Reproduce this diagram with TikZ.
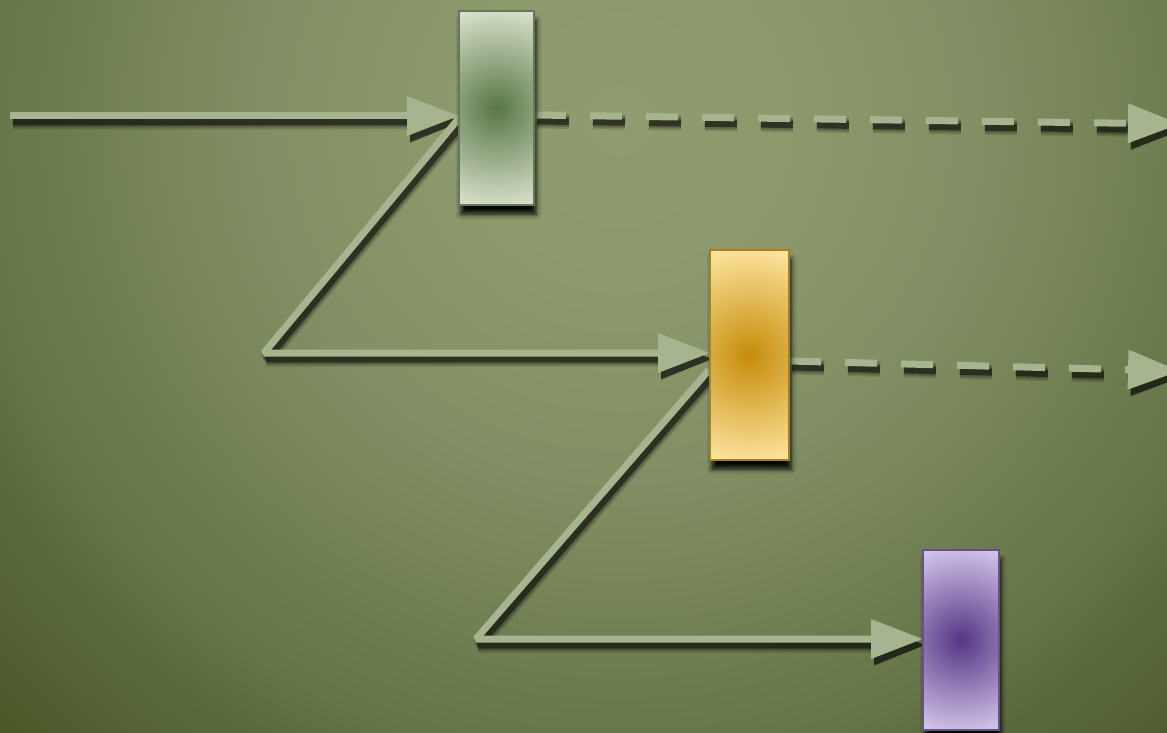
\documentclass[tikz,border=0pt]{standalone}
\usetikzlibrary{arrows.meta,shadows.blur,calc}
\definecolor{bgA}{RGB}{142,156,111}
\definecolor{bgB}{RGB}{140,154,108}
\definecolor{bgC}{RGB}{130,143,100}
\definecolor{bgD}{RGB}{100,116,70}
\definecolor{bgE}{RGB}{90,105,60}
\definecolor{bgF}{RGB}{75,88,40}
\definecolor{arrowc}{RGB}{166,181,143}
\definecolor{gIn}{RGB}{88,118,70}
\definecolor{gOut}{RGB}{222,230,208}
\definecolor{gEdge}{RGB}{104,118,92}
\definecolor{yIn}{RGB}{198,140,10}
\definecolor{yOut}{RGB}{255,232,165}
\definecolor{yEdge}{RGB}{170,128,28}
\definecolor{pIn}{RGB}{84,54,134}
\definecolor{pOut}{RGB}{218,204,238}
\definecolor{pEdge}{RGB}{100,82,132}
\pgfdeclareradialshading{bgsh}{\pgfpoint{0bp}{0bp}}{color(0bp)=(bgA); color(4bp)=(bgB); color(10bp)=(bgC); color(18bp)=(bgD); color(20bp)=(bgE); color(24.2bp)=(bgF); color(50bp)=(bgF)}
\pgfdeclareradialshading{shG}{\pgfpoint{0bp}{0bp}}{color(0bp)=(gIn); color(25bp)=(gOut); color(50bp)=(gOut)}
\pgfdeclareradialshading{shY}{\pgfpoint{0bp}{0bp}}{color(0bp)=(yIn); color(25bp)=(yOut); color(50bp)=(yOut)}
\pgfdeclareradialshading{shP}{\pgfpoint{0bp}{0bp}}{color(0bp)=(pIn); color(25bp)=(pOut); color(50bp)=(pOut)}
\tikzset{
  slot/.style={rectangle, outer sep=0pt, inner sep=0pt},
  slotG/.style={slot, minimum width=75pt, minimum height=194pt},
  slotY/.style={slot, minimum width=79pt, minimum height=210pt},
  slotP/.style={slot, minimum width=76pt, minimum height=180pt},
  box/.style={line width=1.5pt,
    blur shadow={shadow xshift=2pt, shadow yshift=-9pt, shadow blur radius=5pt, shadow opacity=95}},
  boxG/.style={slotG, box, draw=gEdge, fill=gOut,
    path picture={\shade[shading=shG] (path picture bounding box.center) circle (106pt);}},
  boxY/.style={slotY, box, draw=yEdge, fill=yOut,
    path picture={\shade[shading=shY] (path picture bounding box.center) circle (114pt);}},
  boxP/.style={slotP, box, draw=pEdge, fill=pOut,
    path picture={\shade[shading=shP] (path picture bounding box.center) circle (100pt);}},
  conn/.style={line width=7pt, line join=bevel, -{Triangle[length=52pt,width=38pt]}},
  dashes/.style={dash pattern=on 32pt off 24pt},
}
\newcommand\drawconns[1]{%
  \draw[conn,#1] (in1) -- (in1 -| b1.west);
  \draw[conn,#1] (t1) -- (z1) -- (z1 -| b2.west);
  \draw[conn,#1] (s2) -- (z2) -- (z2 -| b3.west);
  \draw[conn,dashes,#1] (d1s) -- (d1e);
  \draw[conn,dashes,#1] (d2s) -- (d2e);
}
\begin{document}
\begin{tikzpicture}[x=1pt,y=-1pt]
\useasboundingbox (0,0) rectangle (1167,733);
\begin{scope}
  \clip (0,0) rectangle (1167,733);
  \shade[shading=bgsh] (620,120) circle (900pt);
\end{scope}
% box positions
\node[slotG] (b1) at (496.5,108) {};
\node[slotY] (b2) at (749.5,355) {};
\node[slotP] (b3) at (961,640) {};
% connector end points
\coordinate (in1) at (10,116);
\coordinate (t1) at (460,117);
\coordinate (z1) at (264,353);
\coordinate (s2) at ($(b2.west)+(-1,15)$);
\coordinate (z2) at (476,639);
\coordinate (d1s) at ($(b1.east)+(0,7)$);
\coordinate (d1e) at (1180,124);
\coordinate (d2s) at ($(b2.east)+(0,6)$);
\coordinate (d2e) at (1180,371);
% shadows of connectors
\begin{scope}[transform canvas={xshift=3pt,yshift=-6pt}]
  \begin{scope}[transparency group, opacity=0.15]
    \drawconns{draw=black, line width=15pt}
  \end{scope}
  \begin{scope}[transparency group, opacity=0.2]
    \drawconns{draw=black, line width=11pt}
  \end{scope}
  \begin{scope}[transparency group, opacity=0.5]
    \drawconns{draw=black, line width=7pt}
  \end{scope}
\end{scope}
% connectors
\drawconns{draw=arrowc}
% boxes
\node[boxG] (g) at (b1.center) {};
\node[boxY] (y) at (b2.center) {};
\node[boxP] (p) at (b3.center) {};
\end{tikzpicture}
\end{document}
